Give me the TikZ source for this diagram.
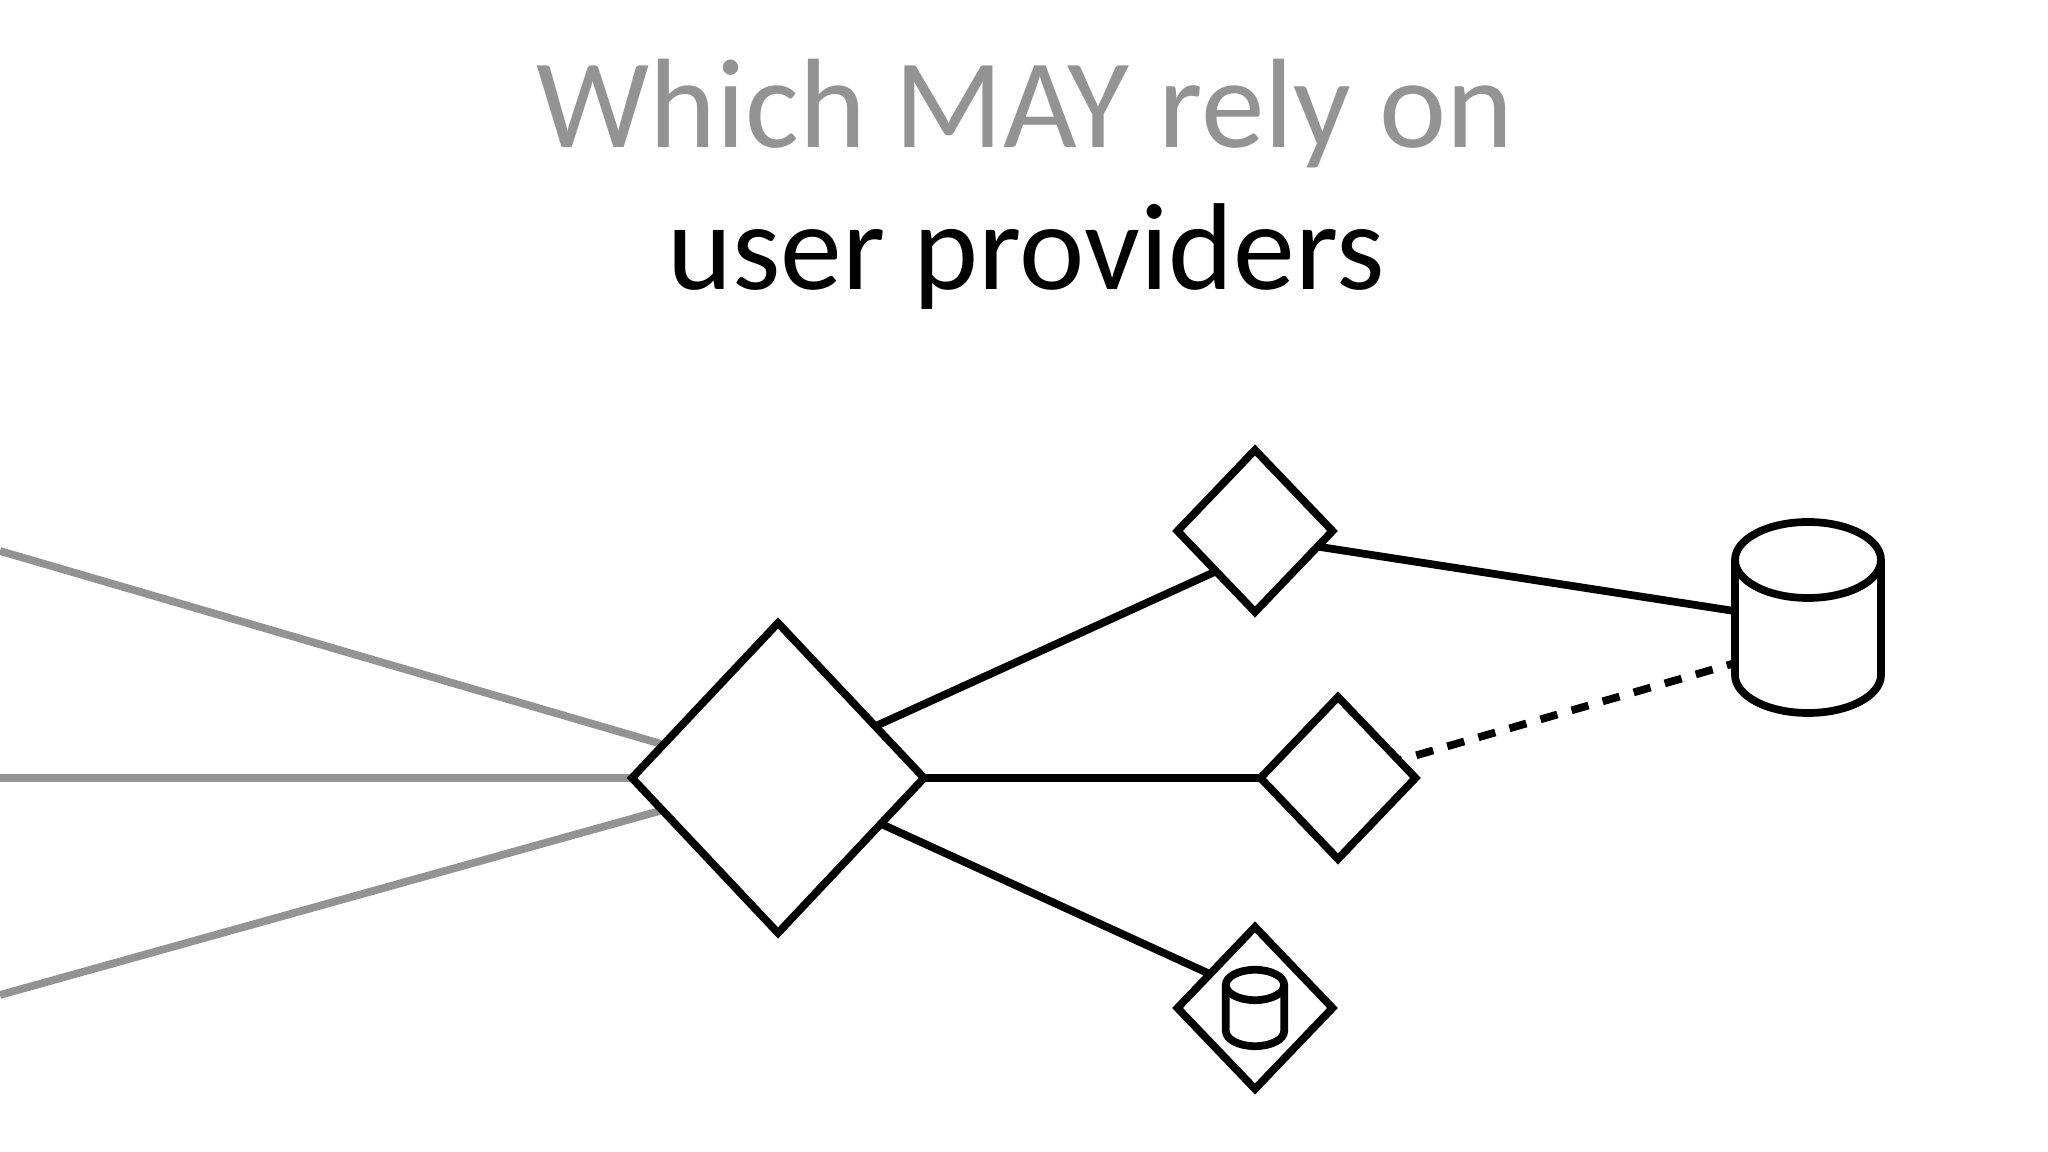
\documentclass[tikz,border=0pt]{standalone}
\usepackage{fontspec}
\setmainfont{Carlito}
\usetikzlibrary{positioning, shapes.geometric, backgrounds}
\definecolor{fadegrey}{HTML}{939393}
\tikzset{
    drum/.pic={
        \draw [fill=white] (-0.73,0.575) -- (-0.73,-0.575) arc[start angle=180, end angle=360, x radius=0.73, y radius=0.38] -- (0.73,0.575);
        \draw (0,0.575) ellipse [x radius=0.73, y radius=0.38];
    }
}

\begin{document}
\begin{tikzpicture}[
    line width=2.2pt,
    rhomb/.style={draw, diamond, inner sep=0pt, outer sep=0pt, minimum width=1.55cm, minimum height=1.62cm},
    dbbox/.style={inner sep=0pt, outer sep=0pt, minimum width=1.46cm, minimum height=1.91cm},
    headline/.style={anchor=base, inner sep=0pt, font=\fontsize{36.2}{36}\selectfont},
    fadeline/.style={draw=fadegrey, line width=2.2pt}
]
    \useasboundingbox (0,0) rectangle (20.48,11.52);

    % --- title ---
    \node [headline, text=fadegrey] (line1) at (10.25,10.04) {Which MAY rely on};
    \node [headline, font=\fontsize{35.2}{36}\selectfont] (line2) at (10.26,8.62) {user providers};

    % --- hub and its three neighbours ---
    \node [rhomb, minimum width=2.92cm, minimum height=3.1cm] (hub) at (7.78,3.74) {};
    \node [rhomb, right=3.365cm of hub] (mid) {};
    \node [rhomb, right=2.535cm of hub, yshift=2.47cm] (top) {};
    \node [rhomb, right=2.535cm of hub, yshift=-2.3cm] (bot) {};

    % --- the two data stores ---
    \node [dbbox] (db) at (18.08,5.345) {};
    \pic at (db) {drum};
    \pic [scale=0.4] at (bot) {drum};

    % --- grey lines, coming in from the left edge ---
    \coordinate (in1) at (0,6.01);
    \coordinate (in2) at (0,3.74);
    \coordinate (in3) at (0,1.57);
    \begin{scope}[on background layer]
        \draw [fadeline] (in1) -- (hub);
        \draw [fadeline] (in2) -- (hub);
        \draw [fadeline] (in3) -- (hub);
    \end{scope}

    % --- black lines ---
    \draw (hub.28) -- (top.226);
    \draw (hub) -- (mid);
    \draw (hub.-24) -- (bot.143);
    \draw (top.-14) -- (db.175);
    \draw [dash pattern=on 5pt off 4.2pt, dash phase=4pt] (mid) -- (db.212);

\end{tikzpicture}
\end{document}
